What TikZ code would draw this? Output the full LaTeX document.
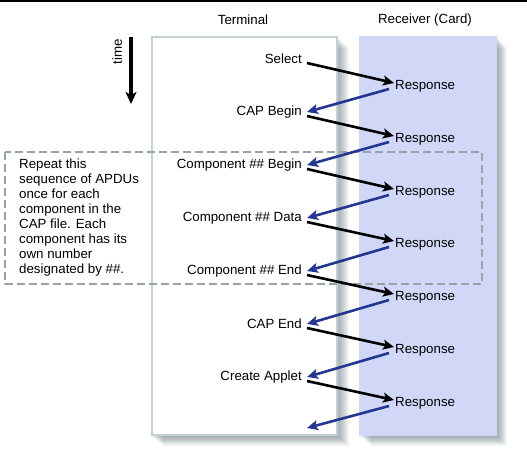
\documentclass[tikz,border=0pt]{standalone}
\usepackage{fontspec}
\setmainfont{Liberation Sans}
\usetikzlibrary{arrows.meta}
\definecolor{cardfill}{RGB}{209,216,247}
\definecolor{termedge}{RGB}{196,208,214}
\definecolor{replyblue}{RGB}{35,55,145}
\definecolor{loopgray}{RGB}{150,164,170}
\definecolor{shadegray}{RGB}{90,110,120}
\tikzset{
  req/.style={anchor=east,inner sep=4pt},
  resp/.style={anchor=west,inner sep=2pt},
  cmd/.style={line width=2.6pt,-{Stealth[length=11pt,width=10pt,inset=2.5pt]}},
  reply/.style={cmd,replyblue},
}
\begin{document}
\begin{tikzpicture}[x=1pt,y=-1pt,font=\fontsize{13.3}{15}\selectfont]
\useasboundingbox (0,0) rectangle (527,456);
\fill[white] (0,0) rectangle (527,456);
\draw[line width=1.5pt] (0,0.75) -- (527,0.75);
% shadows
\foreach \s in {1,...,12} {
  \fill[shadegray,opacity=.06] (151+\s,36+\s) rectangle (337+\s,436+.8*\s);
  \fill[shadegray,opacity=.06] (359+\s,36+\s) rectangle (497+.8*\s,436+.8*\s);
}
\fill[white] (151,36) rectangle (338,436);
\draw[termedge,line width=1.8pt] (151.9,36.9) rectangle (337.1,435.1);
\fill[cardfill] (359,36) rectangle (497,436);
\node (term) at (243,20) {Terminal};
\node (card) at (425,20) {Receiver (Card)};
% time axis
\node[rotate=90] (time) at (117,52) {time};
\coordinate (t0) at (131,37);
\coordinate (t1) at (131,104);
\draw[line width=3.5pt,-{Stealth[length=12pt,width=11pt,inset=3pt]}] (t0) -- (t1);
% repeat loop
\draw[loopgray,line width=2.4pt,dash pattern=on 8pt off 4pt] (5,152) rectangle (482,284);
\node[anchor=north west,inner sep=0,align=left] (note) at (19,159)
  {Repeat this\\sequence of APDUs\\once for each\\component in the\\CAP file. Each\\component has its\\own number\\designated by \#\#.};
% requests and responses
\node[req] (q1) at (306,59) {Select};
\node[req] (q2) at (306,112) {CAP Begin};
\node[req] (q3) at (306,165) {Component \#\# Begin};
\node[req] (q4) at (306,218) {Component \#\# Data};
\node[req] (q5) at (306,271) {Component \#\# End};
\node[req] (q6) at (306,324) {CAP End};
\node[req] (q7) at (306,377) {Create Applet};
\coordinate (q8) at (306,428);
\node[resp] (r1) at (393,86) {Response};
\node[resp] (r2) at (393,139) {Response};
\node[resp] (r3) at (393,192) {Response};
\node[resp] (r4) at (393,244) {Response};
\node[resp] (r5) at (393,297) {Response};
\node[resp] (r6) at (393,350) {Response};
\node[resp] (r7) at (393,403) {Response};
\foreach \i [evaluate=\i as \j using int(\i+1)] in {1,...,7} {
  \draw[cmd] ([xshift=1pt,yshift=-4pt]q\i.east) -- ([xshift=1pt,yshift=3pt]r\i.west);
  \draw[reply] ([xshift=-4pt,yshift=-3pt]r\i.west) -- ([xshift=1pt]q\j.east);
}
\end{tikzpicture}
\end{document}
